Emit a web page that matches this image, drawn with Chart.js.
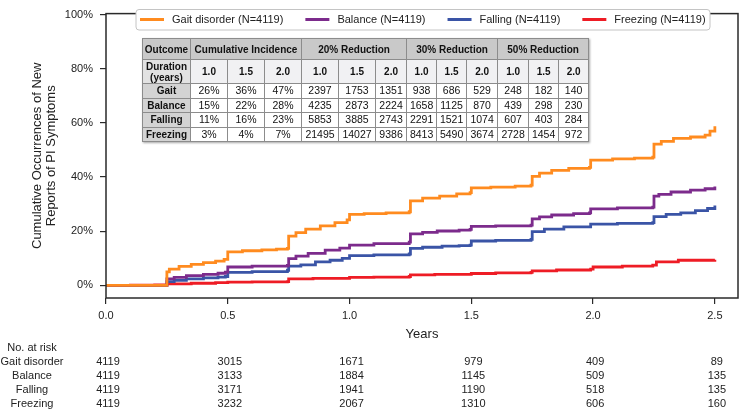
<!DOCTYPE html>
<html><head><meta charset="utf-8">
<script src="https://cdn.jsdelivr.net/npm/chart.js@4.4.1/dist/chart.umd.min.js"></script>
<style>
html,body{margin:0;padding:0;background:#fff;}
#wrap{position:relative;width:742px;height:411px;overflow:hidden;}
#c{position:absolute;left:0;top:0;}
#tbl{position:absolute;left:142px;top:38px;border-collapse:collapse;table-layout:fixed;width:446px;
 font-family:"Liberation Sans",Arial,Helvetica,sans-serif;font-size:10px;color:#111;box-shadow:1px 1px 2px rgba(0,0,0,.35);background:#fff;}
#tbl td{border:1px solid #8c8c8c;padding:0;text-align:center;line-height:11px;white-space:nowrap;overflow:hidden;}
#tbl tr.h td{background:#c9c9c9;font-weight:bold;height:20px;}
#tbl tr.d td{background:#f1f1f3;font-weight:bold;height:23px;}
#tbl tr.d td.f{background:#e2e2e2;}
#tbl tr.r td{height:13.6px;font-size:10.5px;}
#tbl tr.r td.f{background:#d3d3d3;font-weight:bold;font-size:10px;}
</style>
</head><body>
<div id="wrap">
<canvas id="c" width="742" height="411"></canvas>
<table id="tbl"></table>
</div>
<script>
// ---- data ----
const seriesLabels = ['Gait disorder (N=4119)','Balance (N=4119)','Falling (N=4119)','Freezing (N=4119)'];
const riskLabels = ['Gait disorder','Balance','Falling','Freezing'];

const gaitT = [0,0.25,0.26,0.30,0.35,0.40,0.45,0.485,0.50,0.56,0.64,0.70,0.745,0.75,0.78,0.82,0.88,0.94,0.99,1.00,1.06,1.15,1.245,1.25,1.30,1.37,1.44,1.495,1.50,1.58,1.68,1.745,1.75,1.78,1.83,1.90,1.985,1.99,2.08,2.17,2.245,2.25,2.28,2.33,2.40,2.46,2.48,2.50];
const gaitV = [0,5.0,6.0,7.0,7.8,8.4,9.0,9.6,12.4,12.8,13.1,13.4,13.7,18.2,19.5,20.8,22.0,23.2,24.2,26.2,26.5,26.8,27.2,31.2,32.2,33.0,33.8,34.3,36.0,36.3,36.7,37.0,40.3,41.5,42.5,43.2,43.6,46.3,46.7,47.0,47.4,52.2,53.2,54.3,54.8,55.5,57.0,58.8];

const balT = [0,0.25,0.28,0.33,0.40,0.46,0.49,0.50,0.60,0.745,0.75,0.78,0.83,0.90,0.96,1.00,1.10,1.245,1.25,1.30,1.36,1.45,1.495,1.50,1.60,1.745,1.75,1.78,1.83,1.92,1.985,1.99,2.10,2.245,2.25,2.27,2.32,2.40,2.46,2.50];
const balV = [0,2.4,3.0,3.6,4.1,4.5,4.9,6.8,7.1,7.4,9.9,10.8,11.8,13.0,13.8,14.9,15.4,16.0,19.0,19.6,20.1,20.4,20.7,21.8,22.0,22.3,24.6,25.3,26.0,26.5,26.8,28.3,28.6,28.9,33.0,33.6,34.5,35.2,35.7,36.5];

const fallT = [0,0.25,0.28,0.33,0.40,0.46,0.49,0.50,0.60,0.745,0.75,0.80,0.86,0.92,0.97,1.00,1.10,1.245,1.25,1.30,1.38,1.45,1.495,1.50,1.60,1.745,1.75,1.80,1.88,1.99,2.10,2.245,2.25,2.30,2.36,2.42,2.47,2.50];
const fallV = [0,1.4,1.9,2.4,2.8,3.1,3.3,4.8,5.1,5.6,7.1,7.6,8.7,9.3,10.0,11.0,11.3,11.6,13.7,14.1,14.5,14.7,14.9,16.4,16.6,17.0,19.9,20.8,21.6,22.6,22.9,23.2,25.4,26.2,26.8,27.6,28.4,29.5];

const frzT = [0,0.10,0.20,0.25,0.35,0.45,0.50,0.60,0.745,0.75,0.85,1.00,1.10,1.245,1.25,1.35,1.50,1.60,1.745,1.75,1.85,1.99,2.00,2.12,2.245,2.26,2.35,2.50];
const frzV = [0,0.1,0.2,0.6,0.8,1.0,1.2,1.3,1.4,2.4,2.6,3.0,3.1,3.3,3.9,4.1,4.4,4.6,4.8,5.4,5.7,6.0,6.8,7.1,7.5,8.7,9.3,9.5];

const xTicks = [0,0.5,1.0,1.5,2.0,2.5];
const yTicks = [0,20,40,60,80,100];

const riskTimes = [0,0.5,1.0,1.5,2.0,2.5];
const riskGait = [4119,3015,1671,979,409,89];
const riskBalance = [4119,3133,1884,1145,509,135];
const riskFalling = [4119,3171,1941,1190,518,135];
const riskFreezing = [4119,3232,2067,1310,606,160];

const tableGroups = ['Cumulative Incidence','20% Reduction','30% Reduction','50% Reduction'];
const tableDurations = ['1.0','1.5','2.0'];
const tableOutcomes = ['Gait','Balance','Falling','Freezing'];
const tableGait = ['26%','36%','47%','2397','1753','1351','938','686','529','248','182','140'];
const tableBalance = ['15%','22%','28%','4235','2873','2224','1658','1125','870','439','298','230'];
const tableFalling = ['11%','16%','23%','5853','3885','2743','2291','1521','1074','607','403','284'];
const tableFreezing = ['3%','4%','7%','21495','14027','9386','8413','5490','3674','2728','1454','972'];

// ---- styles ----
const colors = ['#ff8b1f','#7c2b8c','#3a54a6','#ee1c25'];
const FONT = '"Liberation Sans", Arial, Helvetica, sans-serif';
Chart.defaults.font.family = FONT;
Chart.defaults.color = '#222';

// ---- table (HTML) ----
(function(){
  const tbl = document.getElementById('tbl');
  const colW = [48,37,37,37,37,37,31,30,30,31,31,30,30];
  let html = '<colgroup>' + colW.map(w=>'<col style="width:'+w+'px">').join('') + '</colgroup>';
  html += '<tr class="h"><td>Outcome</td>' + tableGroups.map(g=>'<td colspan="3">'+g+'</td>').join('') + '</tr>';
  html += '<tr class="d"><td class="f">Duration<br>(years)</td>' + tableGroups.map(()=>tableDurations.map(d=>'<td>'+d+'</td>').join('')).join('') + '</tr>';
  const rows = [tableGait,tableBalance,tableFalling,tableFreezing];
  rows.forEach((r,i)=>{
    html += '<tr class="r"><td class="f">'+tableOutcomes[i]+'</td>' + r.map(v=>'<td>'+v+'</td>').join('') + '</tr>';
  });
  tbl.innerHTML = html;
})();

// ---- plugins ----
const framePlugin = {
  id:'frame',
  afterDraw(chart){
    const {ctx, chartArea:a} = chart;
    ctx.save();
    ctx.strokeStyle = '#2a2a2a';
    ctx.lineWidth = 1.5;
    ctx.strokeRect(a.left, a.top, a.right - a.left, a.bottom - a.top);
    ctx.restore();
  }
};

const legendPlugin = {
  id:'customLegend',
  afterDraw(chart){
    const ctx = chart.ctx;
    ctx.save();
    const bx = 136, by = 9.5, bw = 574, bh = 20.5;
    ctx.fillStyle = '#fff';
    ctx.strokeStyle = '#c4c4c4';
    ctx.lineWidth = 1;
    ctx.beginPath();
    ctx.roundRect(bx, by, bw, bh, 3);
    ctx.fill(); ctx.stroke();
    ctx.font = '11px ' + FONT;
    ctx.textBaseline = 'middle';
    ctx.textAlign = 'left';
    let x = 140;
    const cy = 19.5;
    chart.data.datasets.forEach(ds=>{
      ctx.strokeStyle = ds.borderColor;
      ctx.lineWidth = 3;
      ctx.beginPath(); ctx.moveTo(x, cy); ctx.lineTo(x+24, cy); ctx.stroke();
      x += 32;
      ctx.fillStyle = '#222';
      ctx.fillText(ds.label, x, cy);
      x += ctx.measureText(ds.label).width + 22;
    });
    ctx.restore();
  }
};

const riskPlugin = {
  id:'risk',
  afterDraw(chart){
    const ctx = chart.ctx;
    const xs = chart.scales.x;
    ctx.save();
    ctx.font = '11px ' + FONT;
    ctx.fillStyle = '#222';
    ctx.textBaseline = 'middle';
    ctx.textAlign = 'center';
    ctx.fillText('No. at risk', 32, 348);
    const rows = [riskGait,riskBalance,riskFalling,riskFreezing];
    rows.forEach((r,i)=>{
      const y = 362 + 13.9*i;
      ctx.fillText(riskLabels[i], 32, y);
      r.forEach((v,j)=>{
        ctx.fillText(String(v), xs.getPixelForValue(riskTimes[j]) + 2, y);
      });
    });
    ctx.restore();
  }
};

// ---- chart ----
const seriesT = [gaitT,balT,fallT,frzT];
const seriesV = [gaitV,balV,fallV,frzV];

new Chart(document.getElementById('c'), {
  type:'line',
  data:{
    datasets: seriesLabels.map((lab,k)=>({
      label: lab,
      data: seriesT[k].map((t,i)=>({x:t, y:seriesV[k][i]})),
      borderColor: colors[k],
      backgroundColor: colors[k],
      borderWidth: 2.8,
      pointRadius: 0,
      stepped: true,
      fill: false
    }))
  },
  options:{
    responsive:false,
    animation:false,
    events:[],
    layout:{padding:{left:0,right:4,top:4,bottom:0}},
    plugins:{legend:{display:false}, tooltip:{enabled:false}},
    scales:{
      x:{
        type:'linear', min:0, max:2.595,
        afterBuildTicks:s=>{ s.ticks = xTicks.map(v=>({value:v})); },
        afterFit:s=>{ s.height = 113; },
        ticks:{callback:v=>Number(v).toFixed(1), font:{size:11}, color:'#222', padding:5, maxRotation:0, autoSkip:false},
        grid:{drawOnChartArea:false, drawTicks:true, tickLength:6, color:'#2a2a2a', lineWidth:1.2},
        border:{display:false},
        title:{display:true, text:'Years', font:{size:13, lineHeight:1.2}, color:'#222', padding:{top:0,bottom:69}}
      },
      y:{
        min:-4.64, max:100.36,
        afterBuildTicks:s=>{ s.ticks = yTicks.map(v=>({value:v})); },
        afterFit:s=>{ s.width = 106; },
        ticks:{callback:v=>v+'%', font:{size:11}, color:'#222', padding:7},
        grid:{drawOnChartArea:false, drawTicks:true, tickLength:6, color:'#2a2a2a', lineWidth:1.2},
        border:{display:false},
        title:{display:true, text:['Cumulative Occurrences of New','Reports of PI Symptoms'], font:{size:13, lineHeight:1.1}, color:'#222', padding:{top:30.3,bottom:0}}
      }
    }
  },
  plugins:[framePlugin, legendPlugin, riskPlugin]
});
</script>
</body></html>
